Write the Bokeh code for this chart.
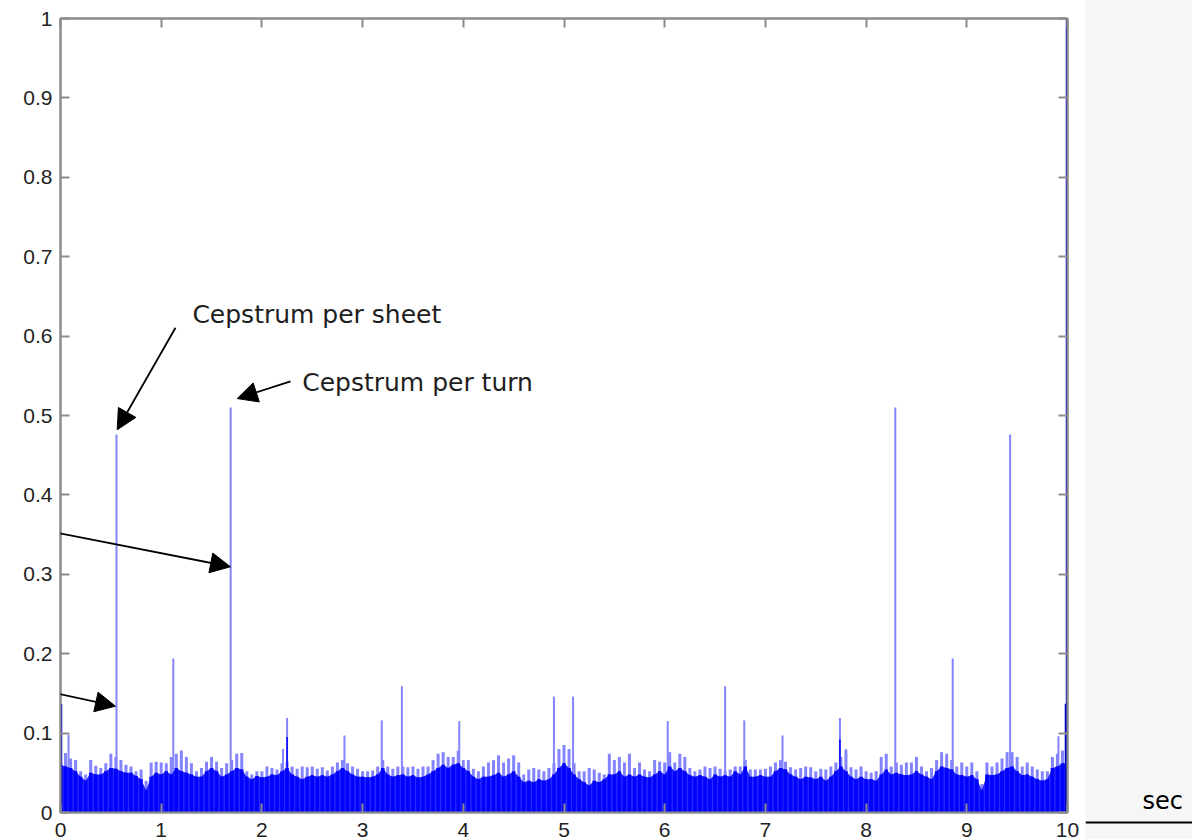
from bokeh.plotting import figure
from bokeh.models import (Range1d, FixedTicker, LinearAxis, Label, Arrow, NormalHead,
                          ColumnDataSource, Span)
from bokeh.layouts import row
from bokeh.embed import file_html
from bokeh.resources import INLINE

# ---------------- data ----------------
x_ticks = [0, 1, 2, 3, 4, 5, 6, 7, 8, 9, 10]
y_ticks = [0, 0.1, 0.2, 0.3, 0.4, 0.5, 0.6, 0.7, 0.8, 0.9, 1]
y_tick_labels = ["0", "0.1", "0.2", "0.3", "0.4", "0.5", "0.6", "0.7", "0.8", "0.9", "1"]

# noise floor, read every 0.05 s: dark (solid) top and light (peak) top
noise_step = 0.05
noise_lo = [
    .060, .058, .056, .052, .045, .040, .050, .048, .048, .052,
    .056, .055, .052, .050, .050, .046, .042, .028, .045, .050,
    .048, .052, .048, .056, .052, .050, .048, .045, .045, .052,
    .056, .052, .045, .048, .052, .056, .054, .045, .042, .046, .044,
    .045, .048, .047, .052, .056, .048, .045, .042, .045, .047,
    .045, .047, .045, .048, .052, .056, .052, .048, .045, .045,
    .044, .045, .048, .056, .048, .045, .047, .048, .045, .047,
    .044, .045, .048, .052, .056, .060, .056, .060, .062, .056,
    .052, .045, .042, .045, .045, .047, .050, .045, .048, .052,
    .045, .038, .040, .038, .042, .040, .042, .048, .056, .062,
    .056, .048, .042, .038, .034, .040, .038, .042, .048, .048,
    .052, .045, .048, .045, .048, .045, .044, .048, .052, .048,
    .058, .052, .056, .052, .047, .045, .047, .045, .042, .048,
    .045, .047, .045, .052, .048, .058, .045, .045, .047, .045,
    .045, .052, .056, .054, .048, .045, .042, .045, .044, .042,
    .045, .040, .045, .052, .058, .052, .045, .042, .045, .042,
    .042, .040, .048, .054, .048, .050, .048, .047, .048, .052,
    .048, .045, .042, .052, .058, .056, .054, .048, .047, .045,
    .047, .042, .028, .048, .047, .048, .052, .056, .058, .052,
    .047, .048, .045, .042, .040, .042, .056, .058, .062, .062,
]
noise_hi = [
    .070, .075, .068, .066, .052, .048, .066, .059, .056, .062,
    .074, .070, .066, .060, .058, .052, .054, .040, .063, .064,
    .063, .062, .070, .074, .078, .070, .062, .052, .056, .064,
    .070, .064, .056, .062, .066, .074, .075, .052, .048, .052, .052,
    .058, .056, .054, .062, .064, .058, .055, .058, .057, .058,
    .055, .057, .053, .058, .063, .066, .062, .058, .055, .052,
    .052, .053, .058, .066, .058, .055, .058, .058, .057, .058,
    .055, .058, .058, .066, .074, .076, .070, .070, .078, .066,
    .066, .055, .052, .058, .063, .066, .072, .063, .068, .072,
    .063, .048, .054, .056, .054, .052, .056, .062, .080, .085,
    .080, .062, .052, .052, .056, .054, .050, .048, .074, .066,
    .070, .063, .074, .056, .063, .054, .052, .066, .064, .063,
    .076, .063, .074, .070, .056, .052, .054, .058, .056, .058,
    .055, .052, .054, .058, .058, .066, .054, .054, .054, .055,
    .058, .063, .066, .064, .057, .054, .056, .058, .057, .052,
    .055, .054, .058, .063, .070, .078, .057, .054, .058, .052,
    .050, .052, .070, .074, .058, .063, .060, .063, .063, .070,
    .058, .052, .056, .066, .076, .074, .066, .058, .063, .058,
    .063, .052, .036, .063, .058, .063, .068, .076, .076, .070,
    .058, .063, .058, .054, .052, .052, .070, .074, .078, .070,
]
noise_x = [round(i * noise_step, 2) for i in range(len(noise_lo))]

# cepstral peaks (quefrency in s, amplitude)
spike_x = [0.08, 0.556, 1.12, 1.69, 2.21, 2.25, 2.82, 3.19, 3.39, 3.96, 4.90,
           5.09, 6.03, 6.60, 6.79, 7.17, 7.74, 7.80, 8.29, 8.86, 9.43, 9.91]
spike_y = [0.098, 0.476, 0.194, 0.510, 0.080, 0.119, 0.097, 0.116, 0.159, 0.115, 0.146,
           0.146, 0.115, 0.159, 0.116, 0.097, 0.119, 0.080, 0.510, 0.194, 0.476, 0.096]
strong_x = [2.25, 7.74]
strong_y = [0.095, 0.092]
edge_x = [0.0, 9.99, 10.0]
edge_y = [0.137, 0.137, 1.0]

# annotations
note_text = ["Cepstrum per sheet", "Cepstrum per turn"]
note_x = [1.31, 2.40]
note_y = [0.627, 0.541]
arrow_x0 = [1.142, 2.284, -0.596, -0.596]
arrow_y0 = [0.6105, 0.5431, 0.3663, 0.1655]
arrow_x1 = [0.563, 1.755, 1.688, 0.546]
arrow_y1 = [0.482, 0.5213, 0.3095, 0.1339]
unit_label = "sec"

# ---------------- style ----------------
AXIS = "#8c8c8c"
LIGHT = "#8484ff"
DARK = "#0000ff"
TICK_FONT = "Liberation Sans"

p = figure(width=1085, height=839, x_range=Range1d(0, 10), y_range=Range1d(0, 1),
           output_backend="svg", toolbar_location=None, title=None,
           min_border_left=60, min_border_right=18, min_border_top=18, min_border_bottom=0)
p.background_fill_color = "white"
p.border_fill_color = "white"
p.outline_line_color = AXIS
p.outline_line_width = 2
p.xgrid.visible = False
p.ygrid.visible = False


def style_axis(ax, labels):
    ax.axis_line_color = AXIS
    ax.axis_line_width = 2
    ax.major_tick_line_color = AXIS
    ax.major_tick_line_width = 2
    ax.major_tick_in = 9
    ax.major_tick_out = 0
    ax.minor_tick_line_color = None
    if labels:
        ax.major_label_text_font = TICK_FONT
        ax.major_label_text_font_size = "21px"
        ax.major_label_text_color = "#1f1f1f"
    else:
        ax.major_label_text_font_size = "0px"
        ax.major_label_text_color = None
        ax.major_label_standoff = 0


p.xaxis.ticker = FixedTicker(ticks=x_ticks)
p.yaxis.ticker = FixedTicker(ticks=y_ticks)
p.yaxis.major_label_overrides = {t: l for t, l in zip(y_ticks, y_tick_labels)}
style_axis(p.xaxis[0], True)
style_axis(p.yaxis[0], True)
p.xaxis.major_label_standoff = 10
p.yaxis.major_label_standoff = 8

top = LinearAxis(ticker=FixedTicker(ticks=x_ticks))
style_axis(top, False)
p.add_layout(top, "above")
right = LinearAxis(ticker=FixedTicker(ticks=y_ticks))
style_axis(right, False)
p.add_layout(right, "right")

# noise floor: light peak strands, then the dark body on top
noise_src = ColumnDataSource(dict(x=noise_x, lo=noise_lo, hi=noise_hi))
p.segment(x0="x", y0=0, x1="x", y1="hi", source=noise_src, line_color=LIGHT, line_width=3)

# peaks
spike_src = ColumnDataSource(dict(x=spike_x, y=spike_y))
p.segment(x0="x", y0=0, x1="x", y1="y", source=spike_src, line_color=LIGHT, line_width=2)

p.vbar(x="x", width=noise_step * 0.7, top="lo", bottom=0, source=noise_src,
       fill_color=DARK, line_color=None)
p.varea(x="x", y1=0, y2="lo", source=noise_src, fill_color=DARK, fill_alpha=0.85)

strong_src = ColumnDataSource(dict(x=strong_x, y=strong_y))
p.segment(x0="x", y0=0, x1="x", y1="y", source=strong_src, line_color=DARK, line_width=1.5)
edge_src = ColumnDataSource(dict(x=edge_x, y=edge_y))
p.segment(x0="x", y0=0, x1="x", y1="y", source=edge_src, line_color="#0000cc", line_width=3.5)

# annotations
for t, xx, yy in zip(note_text, note_x, note_y):
    p.add_layout(Label(x=xx, y=yy, text=t, text_font="DejaVu Sans", text_font_size="25px",
                       text_color="#1e1e1e", text_baseline="alphabetic", text_align="left"))

arrow_src = ColumnDataSource(dict(x0=arrow_x0, y0=arrow_y0, x1=arrow_x1, y1=arrow_y1))
p.add_layout(Arrow(end=NormalHead(size=20, fill_color="black", line_color="black", line_width=1),
                   x_start="x0", y_start="y0", x_end="x1", y_end="y1", source=arrow_src,
                   line_color="black", line_width=1.8))

# side panel with unit label (pixel coordinates)
s = figure(width=107, height=839, x_range=Range1d(0, 107), y_range=Range1d(0, 839),
           output_backend="svg", toolbar_location=None, title=None,
           min_border_left=0, min_border_right=0, min_border_top=0, min_border_bottom=0,
           x_axis_type=None, y_axis_type=None)
s.outline_line_color = None
s.background_fill_color = "#f6f6f6"
s.border_fill_color = "#f6f6f6"
try:
    s.frame_align = False
    p.frame_align = False
except AttributeError:
    pass
s.add_layout(Label(x=57, y=39, text=unit_label, text_font="DejaVu Sans", text_font_size="24px",
                   text_color="black", text_baseline="alphabetic"))
s.add_layout(Span(location=17, dimension="width", line_color="black", line_width=2))

layout = row(p, s)
open("out.html", "w").write(file_html(layout, INLINE))
